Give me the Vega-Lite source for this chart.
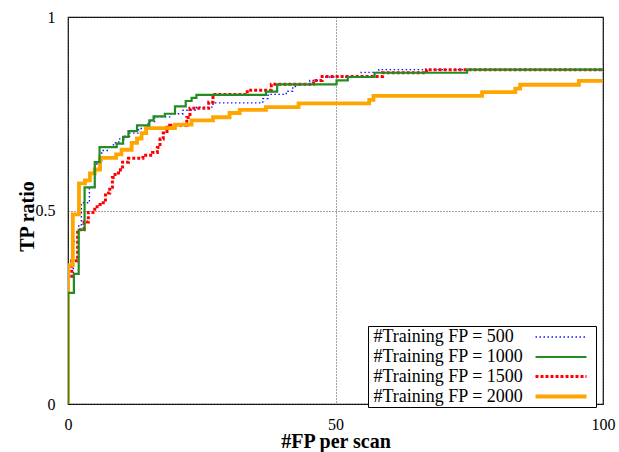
{
  "$schema": "https://vega.github.io/schema/vega-lite/v6.json",
  "width": 535,
  "height": 387,
  "autosize": {"type": "none"},
  "padding": {"left": 68, "top": 17, "right": 16, "bottom": 48},
  "background": "white",
  "config": {
    "view": {"stroke": "black", "strokeWidth": 1.2},
    "font": "Liberation Serif",
    "axis": {
      "labelFont": "Liberation Serif",
      "labelFontSize": 16,
      "labelColor": "black",
      "titleFont": "Liberation Serif",
      "titleFontSize": 20,
      "titleFontWeight": "bold",
      "titleColor": "black",
      "domain": false,
      "ticks": false,
      "grid": true,
      "gridColor": "#444444",
      "gridDash": [1, 2],
      "gridWidth": 1,
      "labelOverlap": false
    },
    "legend": {
      "labelFont": "Liberation Serif",
      "labelFontSize": 18,
      "labelColor": "black",
      "labelLimit": 400,
      "symbolType": "M-3,0H3",
      "symbolSize": 289,
      "symbolFillColor": "transparent",
      "strokeColor": "black",
      "fillColor": "white",
      "padding": 1.5,
      "rowPadding": 0.5,
      "symbolOffset": 181,
      "labelOffset": -198
    }
  },
  "data": {
    "values": [
      {"s": "#Training FP = 500", "x": 0, "y": 0},
      {"s": "#Training FP = 500", "x": 0, "y": 0.33},
      {"s": "#Training FP = 500", "x": 1.0, "y": 0.42},
      {"s": "#Training FP = 500", "x": 2.0, "y": 0.46},
      {"s": "#Training FP = 500", "x": 2.5, "y": 0.52},
      {"s": "#Training FP = 500", "x": 4.0, "y": 0.56},
      {"s": "#Training FP = 500", "x": 5.0, "y": 0.62},
      {"s": "#Training FP = 500", "x": 6.3, "y": 0.655},
      {"s": "#Training FP = 500", "x": 7.5, "y": 0.665},
      {"s": "#Training FP = 500", "x": 8.5, "y": 0.675},
      {"s": "#Training FP = 500", "x": 9.5, "y": 0.685},
      {"s": "#Training FP = 500", "x": 10.5, "y": 0.692},
      {"s": "#Training FP = 500", "x": 11.5, "y": 0.7},
      {"s": "#Training FP = 500", "x": 13.2, "y": 0.712},
      {"s": "#Training FP = 500", "x": 15.0, "y": 0.73},
      {"s": "#Training FP = 500", "x": 16.2, "y": 0.742},
      {"s": "#Training FP = 500", "x": 19.0, "y": 0.75},
      {"s": "#Training FP = 500", "x": 21.5, "y": 0.759},
      {"s": "#Training FP = 500", "x": 24.0, "y": 0.767},
      {"s": "#Training FP = 500", "x": 27.1, "y": 0.778},
      {"s": "#Training FP = 500", "x": 36.4, "y": 0.789},
      {"s": "#Training FP = 500", "x": 37.4, "y": 0.8},
      {"s": "#Training FP = 500", "x": 40.8, "y": 0.808},
      {"s": "#Training FP = 500", "x": 42.0, "y": 0.82},
      {"s": "#Training FP = 500", "x": 42.9, "y": 0.826},
      {"s": "#Training FP = 500", "x": 45.2, "y": 0.836},
      {"s": "#Training FP = 500", "x": 47.5, "y": 0.845},
      {"s": "#Training FP = 500", "x": 54.8, "y": 0.857},
      {"s": "#Training FP = 500", "x": 58.1, "y": 0.864},
      {"s": "#Training FP = 500", "x": 100, "y": 0.864},

      {"s": "#Training FP = 1500", "x": 0, "y": 0},
      {"s": "#Training FP = 1500", "x": 0, "y": 0.33},
      {"s": "#Training FP = 1500", "x": 0.7, "y": 0.37},
      {"s": "#Training FP = 1500", "x": 1.8, "y": 0.45},
      {"s": "#Training FP = 1500", "x": 3.0, "y": 0.47},
      {"s": "#Training FP = 1500", "x": 3.8, "y": 0.495},
      {"s": "#Training FP = 1500", "x": 5.0, "y": 0.51},
      {"s": "#Training FP = 1500", "x": 6.0, "y": 0.52},
      {"s": "#Training FP = 1500", "x": 7.0, "y": 0.545},
      {"s": "#Training FP = 1500", "x": 7.8, "y": 0.56},
      {"s": "#Training FP = 1500", "x": 8.3, "y": 0.585},
      {"s": "#Training FP = 1500", "x": 8.8, "y": 0.597},
      {"s": "#Training FP = 1500", "x": 9.8, "y": 0.605},
      {"s": "#Training FP = 1500", "x": 10.2, "y": 0.625},
      {"s": "#Training FP = 1500", "x": 11.3, "y": 0.635},
      {"s": "#Training FP = 1500", "x": 14.0, "y": 0.643},
      {"s": "#Training FP = 1500", "x": 15.8, "y": 0.65},
      {"s": "#Training FP = 1500", "x": 16.7, "y": 0.663},
      {"s": "#Training FP = 1500", "x": 17.2, "y": 0.685},
      {"s": "#Training FP = 1500", "x": 17.8, "y": 0.7},
      {"s": "#Training FP = 1500", "x": 18.5, "y": 0.715},
      {"s": "#Training FP = 1500", "x": 19.0, "y": 0.72},
      {"s": "#Training FP = 1500", "x": 22.2, "y": 0.74},
      {"s": "#Training FP = 1500", "x": 22.8, "y": 0.764},
      {"s": "#Training FP = 1500", "x": 26.3, "y": 0.78},
      {"s": "#Training FP = 1500", "x": 27.1, "y": 0.8},
      {"s": "#Training FP = 1500", "x": 33.5, "y": 0.811},
      {"s": "#Training FP = 1500", "x": 38.0, "y": 0.826},
      {"s": "#Training FP = 1500", "x": 45.9, "y": 0.836},
      {"s": "#Training FP = 1500", "x": 47.5, "y": 0.846},
      {"s": "#Training FP = 1500", "x": 58.8, "y": 0.856},
      {"s": "#Training FP = 1500", "x": 67.0, "y": 0.864},
      {"s": "#Training FP = 1500", "x": 100, "y": 0.864},

      {"s": "#Training FP = 2000", "x": 0, "y": 0},
      {"s": "#Training FP = 2000", "x": 0, "y": 0.359},
      {"s": "#Training FP = 2000", "x": 0.9, "y": 0.49},
      {"s": "#Training FP = 2000", "x": 2.05, "y": 0.57},
      {"s": "#Training FP = 2000", "x": 3.17, "y": 0.578},
      {"s": "#Training FP = 2000", "x": 4.1, "y": 0.596},
      {"s": "#Training FP = 2000", "x": 5.0, "y": 0.606},
      {"s": "#Training FP = 2000", "x": 6.0, "y": 0.636},
      {"s": "#Training FP = 2000", "x": 9.0, "y": 0.645},
      {"s": "#Training FP = 2000", "x": 10.0, "y": 0.657},
      {"s": "#Training FP = 2000", "x": 11.9, "y": 0.675},
      {"s": "#Training FP = 2000", "x": 12.9, "y": 0.686},
      {"s": "#Training FP = 2000", "x": 13.75, "y": 0.7},
      {"s": "#Training FP = 2000", "x": 14.6, "y": 0.713},
      {"s": "#Training FP = 2000", "x": 20.0, "y": 0.722},
      {"s": "#Training FP = 2000", "x": 23.1, "y": 0.733},
      {"s": "#Training FP = 2000", "x": 27.1, "y": 0.741},
      {"s": "#Training FP = 2000", "x": 30.2, "y": 0.752},
      {"s": "#Training FP = 2000", "x": 32.1, "y": 0.76},
      {"s": "#Training FP = 2000", "x": 37.0, "y": 0.767},
      {"s": "#Training FP = 2000", "x": 43.1, "y": 0.777},
      {"s": "#Training FP = 2000", "x": 56.3, "y": 0.786},
      {"s": "#Training FP = 2000", "x": 57.1, "y": 0.796},
      {"s": "#Training FP = 2000", "x": 77.4, "y": 0.806},
      {"s": "#Training FP = 2000", "x": 83.6, "y": 0.815},
      {"s": "#Training FP = 2000", "x": 84.5, "y": 0.825},
      {"s": "#Training FP = 2000", "x": 95.5, "y": 0.835},
      {"s": "#Training FP = 2000", "x": 100, "y": 0.835},

      {"s": "#Training FP = 1000", "x": 0, "y": 0},
      {"s": "#Training FP = 1000", "x": 0, "y": 0.287},
      {"s": "#Training FP = 1000", "x": 1.1, "y": 0.336},
      {"s": "#Training FP = 1000", "x": 2.0, "y": 0.45},
      {"s": "#Training FP = 1000", "x": 3.1, "y": 0.56},
      {"s": "#Training FP = 1000", "x": 5.0, "y": 0.625},
      {"s": "#Training FP = 1000", "x": 5.9, "y": 0.664},
      {"s": "#Training FP = 1000", "x": 9.1, "y": 0.673},
      {"s": "#Training FP = 1000", "x": 10.3, "y": 0.69},
      {"s": "#Training FP = 1000", "x": 11.3, "y": 0.705},
      {"s": "#Training FP = 1000", "x": 12.9, "y": 0.72},
      {"s": "#Training FP = 1000", "x": 15.2, "y": 0.733},
      {"s": "#Training FP = 1000", "x": 16.0, "y": 0.743},
      {"s": "#Training FP = 1000", "x": 18.1, "y": 0.75},
      {"s": "#Training FP = 1000", "x": 20.0, "y": 0.769},
      {"s": "#Training FP = 1000", "x": 22.0, "y": 0.783},
      {"s": "#Training FP = 1000", "x": 23.1, "y": 0.791},
      {"s": "#Training FP = 1000", "x": 24.0, "y": 0.799},
      {"s": "#Training FP = 1000", "x": 37.0, "y": 0.807},
      {"s": "#Training FP = 1000", "x": 39.1, "y": 0.826},
      {"s": "#Training FP = 1000", "x": 50.2, "y": 0.836},
      {"s": "#Training FP = 1000", "x": 52.3, "y": 0.845},
      {"s": "#Training FP = 1000", "x": 57.3, "y": 0.856},
      {"s": "#Training FP = 1000", "x": 74.6, "y": 0.864},
      {"s": "#Training FP = 1000", "x": 100, "y": 0.864}
    ]
  },
  "mark": {"type": "line", "interpolate": "step-after", "clip": true},
  "encoding": {
    "x": {
      "field": "x",
      "type": "quantitative",
      "scale": {"domain": [0, 100], "nice": false},
      "axis": {
        "values": [0, 50, 100],
        "title": "#FP per scan",
        "labelPadding": 12,
        "labelFlush": false,
        "titleY": 43,
        "titleBaseline": "alphabetic"
      }
    },
    "y": {
      "field": "y",
      "type": "quantitative",
      "scale": {"domain": [0, 1], "nice": false},
      "axis": {
        "values": [0, 0.5, 1],
        "labelExpr": "datum.value",
        "title": "TP ratio",
        "labelPadding": 13,
        "titleX": -35,
        "titleY": 199,
        "titleAlign": "center",
        "titleBaseline": "alphabetic"
      }
    },
    "color": {
      "field": "s",
      "type": "nominal",
      "scale": {
        "domain": ["#Training FP = 500", "#Training FP = 1000", "#Training FP = 1500", "#Training FP = 2000"],
        "range": ["#1010ff", "#228b22", "#ff0000", "#ffa500"]
      },
      "legend": {"title": null, "orient": "none", "legendX": 300, "legendY": 309, "direction": "vertical"}
    },
    "strokeDash": {
      "field": "s",
      "type": "nominal",
      "scale": {
        "domain": ["#Training FP = 500", "#Training FP = 1000", "#Training FP = 1500", "#Training FP = 2000"],
        "range": [[1.5, 2.5], [1, 0], [3, 2], [1, 0]]
      },
      "legend": {"title": null, "orient": "none", "legendX": 300, "legendY": 309, "direction": "vertical"}
    },
    "strokeWidth": {
      "field": "s",
      "type": "ordinal",
      "scale": {
        "domain": ["#Training FP = 500", "#Training FP = 1000", "#Training FP = 1500", "#Training FP = 2000"],
        "range": [1.4, 3.8],
        "padding": 0
      },
      "legend": {"title": null, "orient": "none", "legendX": 300, "legendY": 309, "direction": "vertical"}
    }
  }
}
